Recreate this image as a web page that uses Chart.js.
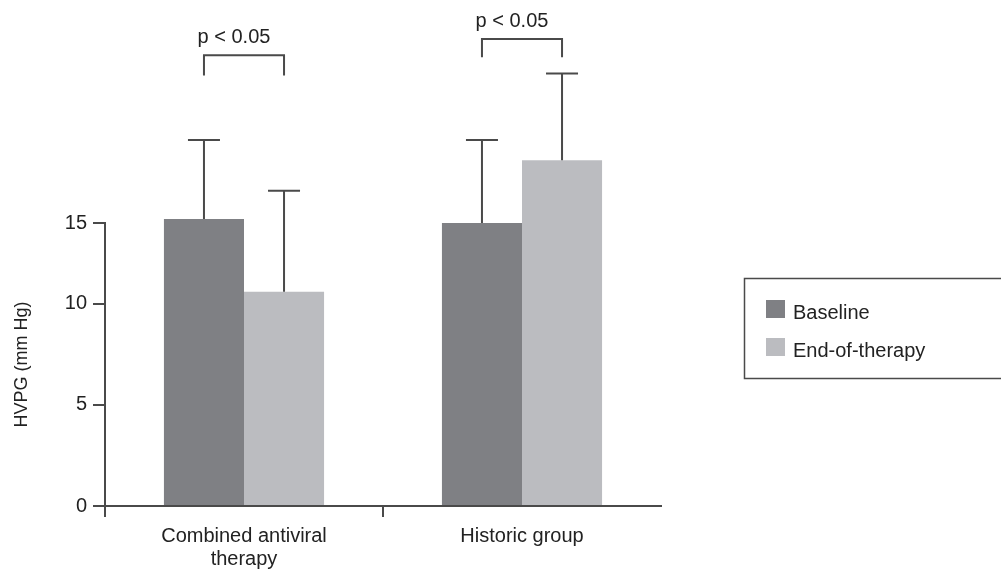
<!DOCTYPE html>
<html>
<head>
<meta charset="utf-8">
<script src="https://cdn.jsdelivr.net/npm/chart.js@4.4.1/dist/chart.umd.min.js"></script>
<style>
  html, body { margin: 0; padding: 0; background: #fff; }
  #wrap { width: 1001px; height: 581px; }
</style>
</head>
<body>
<div id="wrap"><canvas id="c" width="1001" height="581"></canvas></div>
<script>
const categories = [['Combined antiviral', 'therapy'], 'Historic group']
const seriesNames = ['Baseline', 'End-of-therapy']
const baseline = [14.2, 14.0]
const baselineSD = [3.9, 4.1]
const endOfTherapy = [10.6, 17.1]
const endOfTherapySD = [5.0, 4.3]
// the source axis is uneven: its "15" mark sits lower than 0/5/10 spacing would put it
const tickValues = [0, 5, 10, 14]
const tickLabels = ['0', '5', '10', '15']
const brackets = [
    { group: 0, top: 22.3, leg: 21.3, text: 'p < 0.05' },
    { group: 1, top: 23.1, leg: 22.2, text: 'p < 0.05' }
]

const FONT = 'Liberation Sans, Arial, Helvetica, sans-serif'
const INK = '#4a4a4a'
const colors = ['#7f8084', '#bbbcc0']

const errorBars = {
    id: 'errorBars',
    afterDatasetsDraw(chart) {
        const { ctx, scales: { y } } = chart
        const sds = [baselineSD, endOfTherapySD]
        ctx.save()
        ctx.strokeStyle = INK
        ctx.lineWidth = 2
        chart.data.datasets.forEach((ds, di) => {
            chart.getDatasetMeta(di).data.forEach((bar, i) => {
                const top = y.getPixelForValue(ds.data[i] + sds[di][i])
                ctx.beginPath()
                ctx.moveTo(bar.x, bar.y)
                ctx.lineTo(bar.x, top)
                ctx.moveTo(bar.x - 16, top)
                ctx.lineTo(bar.x + 16, top)
                ctx.stroke()
            })
        })
        // significance brackets
        ctx.fillStyle = '#222'
        ctx.font = '20px ' + FONT
        ctx.textAlign = 'center'
        ctx.textBaseline = 'bottom'
        brackets.forEach(b => {
            const x1 = chart.getDatasetMeta(0).data[b.group].x
            const x2 = chart.getDatasetMeta(1).data[b.group].x
            const yt = y.getPixelForValue(b.top)
            const yl = y.getPixelForValue(b.leg)
            ctx.beginPath()
            ctx.moveTo(x1, yl)
            ctx.lineTo(x1, yt)
            ctx.lineTo(x2, yt)
            ctx.lineTo(x2, yl)
            ctx.stroke()
            ctx.fillText(b.text, (x1 + x2) / 2 - 10, yt - 8)
        })
        ctx.restore()
    }
}

const boxLegend = {
    id: 'boxLegend',
    afterDraw(chart) {
        const { ctx } = chart
        ctx.save()
        ctx.strokeStyle = INK
        ctx.lineWidth = 1.5
        ctx.strokeRect(744.5, 278.5, 270, 100)
        ctx.font = '20px ' + FONT
        ctx.textBaseline = 'middle'
        ctx.textAlign = 'left'
        chart.data.datasets.forEach((ds, i) => {
            const yy = 300 + i * 38
            ctx.fillStyle = ds.backgroundColor
            ctx.fillRect(766, yy, 19, 18)
            ctx.fillStyle = '#222'
            ctx.fillText(ds.label, 793, yy + 13)
        })
        ctx.restore()
    }
}

new Chart(document.getElementById('c'), {
    type: 'bar',
    data: {
        labels: categories,
        datasets: [
            { label: seriesNames[0], data: baseline, backgroundColor: colors[0], clip: false },
            { label: seriesNames[1], data: endOfTherapy, backgroundColor: colors[1], clip: false }
        ]
    },
    options: {
        responsive: false,
        animation: false,
        layout: { padding: { left: 0, right: 340, top: 223, bottom: 0 } },
        categoryPercentage: 0.576,
        barPercentage: 1,
        plugins: {
            legend: { display: false },
            tooltip: { enabled: false }
        },
        scales: {
            x: {
                afterFit(scale) { scale.height = 75 },
                border: { color: INK, width: 2 },
                grid: {
                    offset: true,
                    drawOnChartArea: false,
                    tickLength: 11,
                    lineWidth: 2,
                    // no tick at the far right end of the axis
                    color: ctx => ctx.tick ? INK : 'rgba(0,0,0,0)'
                },
                ticks: {
                    color: '#222',
                    padding: 8,
                    font: { family: FONT, size: 20, lineHeight: 1.15 }
                }
            },
            y: {
                min: 0,
                max: 14,
                afterFit(scale) { scale.width = 105 },
                afterBuildTicks(scale) {
                    scale.ticks = tickValues.map(v => ({ value: v }))
                },
                border: { color: INK, width: 2 },
                grid: { drawOnChartArea: false, tickLength: 12, lineWidth: 2, color: INK },
                ticks: {
                    color: '#222',
                    padding: 6,
                    font: { family: FONT, size: 20 },
                    callback: (v, i) => tickLabels[i]
                },
                title: {
                    display: true,
                    text: 'HVPG (mm Hg)',
                    color: '#222',
                    padding: { top: 11, bottom: 0 },
                    font: { family: FONT, size: 18 }
                }
            }
        }
    },
    plugins: [errorBars, boxLegend]
})
</script>
</body>
</html>
